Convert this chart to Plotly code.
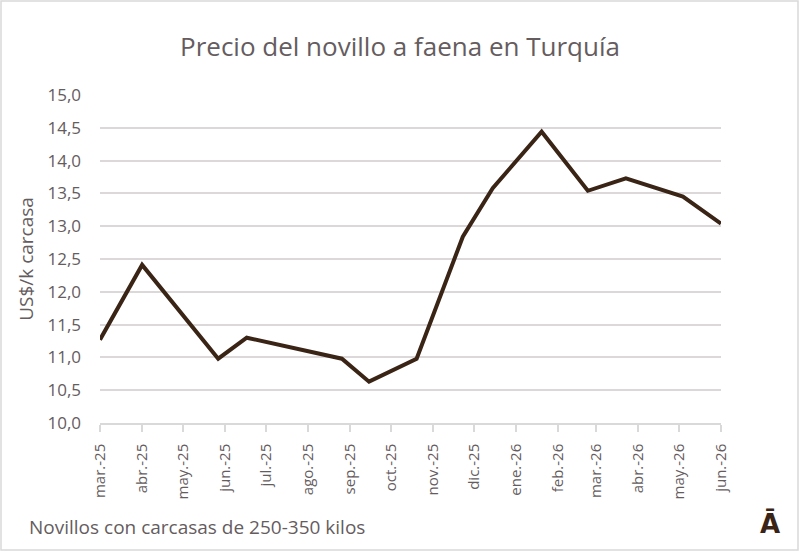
import plotly.graph_objects as go

# Datos
fechas = ["2025-03-01", "2025-04-01", "2025-05-27", "2025-06-17", "2025-08-26",
          "2025-09-15", "2025-10-20", "2025-11-23", "2025-12-15", "2026-01-20",
          "2026-02-23", "2026-03-23", "2026-05-04", "2026-06-01"]
precios = [11.27, 12.41, 10.98, 11.30, 10.98, 10.63, 10.98, 12.84, 13.58, 14.44,
           13.54, 13.73, 13.45, 13.04]

meses_vals = ["2025-03-01", "2025-04-01", "2025-05-01", "2025-06-01", "2025-07-01",
              "2025-08-01", "2025-09-01", "2025-10-01", "2025-11-01", "2025-12-01",
              "2026-01-01", "2026-02-01", "2026-03-01", "2026-04-01", "2026-05-01",
              "2026-06-01"]
meses_txt = ["mar.-25", "abr.-25", "may.-25", "jun.-25", "jul.-25", "ago.-25",
             "sep.-25", "oct.-25", "nov.-25", "dic.-25", "ene.-26", "feb.-26",
             "mar.-26", "abr.-26", "may.-26", "jun.-26"]

gris = "#655c60"
fuente = "Open Sans"

fig = go.Figure()
fig.add_trace(go.Scatter(
    x=fechas, y=precios, mode="lines",
    line=dict(color="#3a2416", width=4),
    hoverinfo="skip"
))

fig.update_layout(
    width=800, height=552,
    margin=dict(l=100, r=79, t=95, b=129),
    plot_bgcolor="white", paper_bgcolor="white",
    showlegend=False,
    separators=",.",
    font=dict(family=fuente, color=gris, size=15),
    title=dict(text="Precio del novillo a faena en Turquía", x=0.5, xanchor="center",
               y=1 - 47 / 552, yanchor="middle",
               font=dict(family=fuente, size=26, color=gris)),
)

fig.update_xaxes(
    type="date",
    range=["2025-03-01", "2026-06-01"],
    tickmode="array", tickvals=meses_vals, ticktext=meses_txt,
    tickangle=-90, tickfont=dict(size=15, color=gris),
    showgrid=False, showline=True, linecolor="#d9d9d9", linewidth=1.5,
    ticks="outside", ticklen=7, tickcolor="#d9d9d9", tickwidth=1.5,
    ticklabelstandoff=6,
)
fig.update_yaxes(
    range=[10, 15], dtick=0.5, tickformat=".1f",
    tickfont=dict(size=17, color=gris),
    showgrid=True, gridcolor="#dcd8d9", gridwidth=1.5,
    zeroline=False, showline=False, ticks="", ticklabelstandoff=18,
    title=dict(text="US$/k carcasa", font=dict(size=19, color=gris), standoff=8),
)

# Nota al pie
fig.add_annotation(
    text="Novillos con carcasas de 250-350 kilos",
    xref="paper", yref="paper",
    x=(27 - 100) / 621, y=(423 - 527) / 328,
    xanchor="left", yanchor="middle", showarrow=False,
    font=dict(family=fuente, size=19, color=gris)
)
# Logo
fig.add_annotation(
    text="<b>Ā</b>",
    xref="paper", yref="paper",
    x=(770 - 100) / 621, y=(423 - 523) / 328,
    xanchor="center", yanchor="middle", showarrow=False,
    font=dict(family="DejaVu Sans", size=26, color="#3a2416")
)

# Borde del gráfico
fig.add_shape(
    type="rect", xref="paper", yref="paper",
    x0=(1 - 100) / 621, x1=(798 - 100) / 621,
    y0=(423 - 550) / 328, y1=(423 - 1) / 328,
    line=dict(color="#d9d9d9", width=1.5), fillcolor="rgba(0,0,0,0)"
)

fig.write_html("out.html", config={"displayModeBar": False},
               post_script="document.body.style.margin='0';")
